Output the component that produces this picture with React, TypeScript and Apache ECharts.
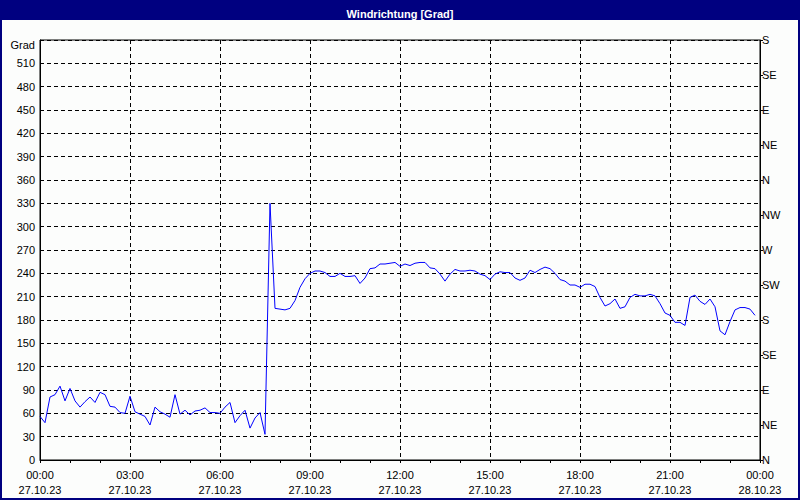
import React, { useEffect, useRef } from "react";
import * as echarts from "echarts";

const TITLE = "Windrichtung [Grad]";
const Y_UNIT = "Grad";
const START_DATE = "27.10.23";
const END_DATE = "28.10.23";
const STEP_MINUTES = 10;

// wind direction every 10 minutes from 00:00 to 23:50
const windDirection: number[] = [
  56, 48, 81, 84, 95, 76, 92, 76, 68, 75,
  81, 74, 87, 84, 69, 68, 61, 60, 82, 62,
  59, 56, 45, 68, 62, 59, 55, 84, 59, 64,
  58, 63, 64, 67, 61, 61, 60, 68, 74, 48,
  57, 64, 41, 54, 61, 33, 330, 195, 194, 193,
  195, 205, 222, 233, 240, 243, 243, 241, 236, 236,
  240, 236, 236, 237, 227, 234, 246, 247, 252, 252,
  253, 254, 249, 252, 250, 253, 254, 254, 247, 246,
  239, 230, 239, 245, 243, 243, 244, 243, 239, 237,
  232, 239, 242, 241, 241, 234, 231, 234, 244, 241,
  245, 248, 246, 240, 232, 230, 225, 225, 222, 226,
  226, 223, 209, 198, 201, 207, 195, 197, 209, 213,
  211, 211, 213, 211, 201, 189, 186, 177, 177, 173,
  209, 212, 204, 200, 207, 197, 166, 161, 178, 193,
  196, 196, 194, 186,
];

const compassLabels = ["N", "NE", "E", "SE", "S", "SW", "W", "NW", "N", "NE", "E", "SE", "S"];

const FONT = "'Liberation Sans', Arial, sans-serif";

export default function App() {
  const ref = useRef<HTMLDivElement>(null);
  useEffect(() => {
    if (!ref.current) return;
    const chart = echarts.init(ref.current, undefined, { renderer: "svg" });
    const seriesData = windDirection.map((v, i) => [i * STEP_MINUTES, v]);
    const dashed = { show: true, lineStyle: { color: "#000", type: [4, 3] as any, width: 1 } };
    chart.setOption({
      animation: false,
      backgroundColor: "#fcfdfc",
      textStyle: { fontFamily: FONT },
      title: {
        text: TITLE,
        left: "center",
        top: 3,
        textStyle: { color: "#ffffff", fontSize: 11, fontWeight: "bold", fontFamily: FONT },
        z: 10,
      },
      graphic: [
        { type: "rect", z: 1, shape: { x: 0, y: 0, width: 800, height: 20 }, style: { fill: "#000080" } },
        {
          type: "rect",
          z: 100,
          shape: { x: 1, y: 1, width: 798, height: 498 },
          style: { fill: "none", stroke: "#000080", lineWidth: 2 },
        },
      ],
      grid: {
        left: 40,
        right: 40,
        top: 40,
        bottom: 40,
        show: true,
        borderColor: "#000",
        borderWidth: 1,
        backgroundColor: "transparent",
      },
      xAxis: {
        type: "value",
        min: 0,
        max: 1440,
        interval: 180,
        axisLine: { show: true, lineStyle: { color: "#000" } },
        axisTick: { show: true, length: 3, lineStyle: { color: "#000" } },
        minorTick: { show: true, splitNumber: 3, length: 3, lineStyle: { color: "#000" } },
        splitLine: dashed,
        axisLabel: {
          color: "#000",
          fontSize: 11,
          fontFamily: FONT,
          lineHeight: 15,
          margin: 7,
          showMinLabel: true,
          showMaxLabel: true,
          formatter: (v: number) => {
            const h = Math.floor(v / 60) % 24;
            const hh = (h < 10 ? "0" : "") + h + ":00";
            return hh + "\n" + (v >= 1440 ? END_DATE : START_DATE);
          },
        },
      },
      yAxis: [
        {
          type: "value",
          min: 0,
          max: 540,
          interval: 30,
          position: "left",
          axisLine: { show: true, lineStyle: { color: "#000" } },
          axisTick: { show: false },
          splitLine: dashed,
          axisLabel: {
            color: "#000",
            fontSize: 11,
            fontFamily: FONT,
            margin: 5,
            formatter: (v: number) => (v === 540 ? "{u|" + Y_UNIT + "}" : String(v)),
            rich: { u: { fontSize: 11, fontFamily: FONT, color: "#000", padding: [9, 0, 0, 0] } },
          },
        },
        {
          type: "value",
          min: 0,
          max: 540,
          interval: 45,
          position: "right",
          axisLine: { show: true, lineStyle: { color: "#000" } },
          axisTick: { show: true, length: 3, lineStyle: { color: "#000" } },
          splitLine: { show: false },
          axisLabel: {
            color: "#000",
            fontSize: 11,
            fontFamily: FONT,
            margin: 2,
            formatter: (v: number) => compassLabels[Math.round(v / 45)] ?? "",
          },
        },
      ],
      series: [
        {
          type: "line",
          data: seriesData,
          yAxisIndex: 0,
          showSymbol: false,
          symbol: "none",
          lineStyle: { color: "#0000ff", width: 1 },
          itemStyle: { color: "#0000ff" },
        },
      ],
    });
    return () => chart.dispose();
  }, []);
  return (
    <div
      ref={ref}
      style={{ position: "absolute", left: 0, top: 0, width: 800, height: 500 }}
    />
  );
}
